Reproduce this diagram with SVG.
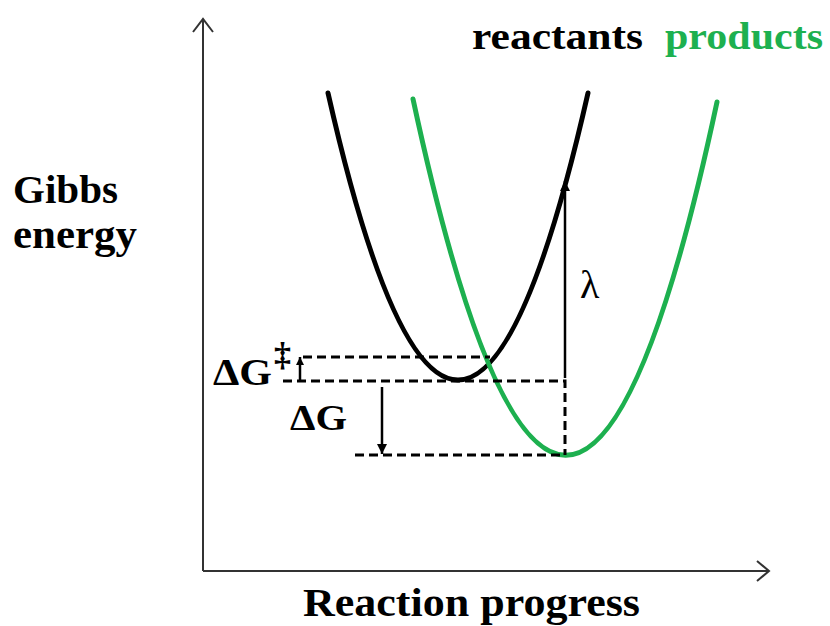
<svg xmlns="http://www.w3.org/2000/svg" width="830" height="626" viewBox="0 0 830 626">
<defs>
<style>
.t{font-family:"Liberation Serif","Times New Roman",serif;font-weight:bold;fill:#000}
.axis{stroke:#333;stroke-width:2;fill:none}
.dash{stroke:#000;stroke-width:3;stroke-dasharray:9 5;fill:none}
.curve{fill:none;stroke-width:5;stroke-linecap:round}
.arr{stroke:#000;stroke-width:2.5;fill:none}
</style>
<marker id="ah" viewBox="0 0 10 10" refX="10" refY="5" markerWidth="8" markerHeight="8" markerUnits="userSpaceOnUse" orient="auto"><path d="M0,0 L10,5 L0,10 z" fill="#000"/></marker>
<marker id="ahs" viewBox="0 0 10 10" refX="10" refY="5" markerWidth="10" markerHeight="10" markerUnits="userSpaceOnUse" orient="auto"><path d="M0,0 L10,5 L0,10 z" fill="#000"/></marker>
</defs>
<rect width="830" height="626" fill="#fff"/>
<g id="axes">
<path class="axis" d="M203,571 V19 M193,32 L203,19 L213,32"/>
<path class="axis" d="M203,571 H769 M757,561 L769,571 L757,581"/>
</g>
<g id="reactants-curve"><path class="curve" stroke="#000" d="M328,93 Q458,667 588,93"/></g>
<g id="products-curve"><path class="curve" stroke="#1db04f" d="M413,99 Q566,810 717,102"/></g>
<g id="connectors">
<path class="dash" d="M303,357 H490"/>
<path class="dash" d="M283,381 H565 V455"/>
<path class="dash" d="M355,455 H565"/>
<path class="arr" d="M565,378 V181" marker-end="url(#ahs)"/>
<path class="arr" d="M300,381 V357" marker-end="url(#ah)"/>
<path class="arr" d="M382,387 V454" marker-end="url(#ahs)"/>
</g>
<g id="labels">
<text class="t" x="472" y="49" font-size="38" textLength="171" lengthAdjust="spacingAndGlyphs">reactants</text>
<text class="t" x="665" y="49" font-size="38" textLength="158" lengthAdjust="spacingAndGlyphs" style="fill:#1db04f">products</text>
<text class="t" x="13" y="203" font-size="40" textLength="105" lengthAdjust="spacingAndGlyphs">Gibbs</text>
<text class="t" x="13" y="248" font-size="40" textLength="124" lengthAdjust="spacingAndGlyphs">energy</text>
<text class="t" x="303" y="616" font-size="40" textLength="337" lengthAdjust="spacingAndGlyphs">Reaction progress</text>
<text x="580" y="298" font-family="Liberation Serif, serif" font-size="40">λ</text>
<text class="t" x="213" y="385" font-size="38" textLength="59" lengthAdjust="spacingAndGlyphs">ΔG</text>
<text class="t" x="274" y="366" font-size="34">‡</text>
<text class="t" x="290" y="430" font-size="36" textLength="57" lengthAdjust="spacingAndGlyphs">ΔG</text>
</g>
</svg>
